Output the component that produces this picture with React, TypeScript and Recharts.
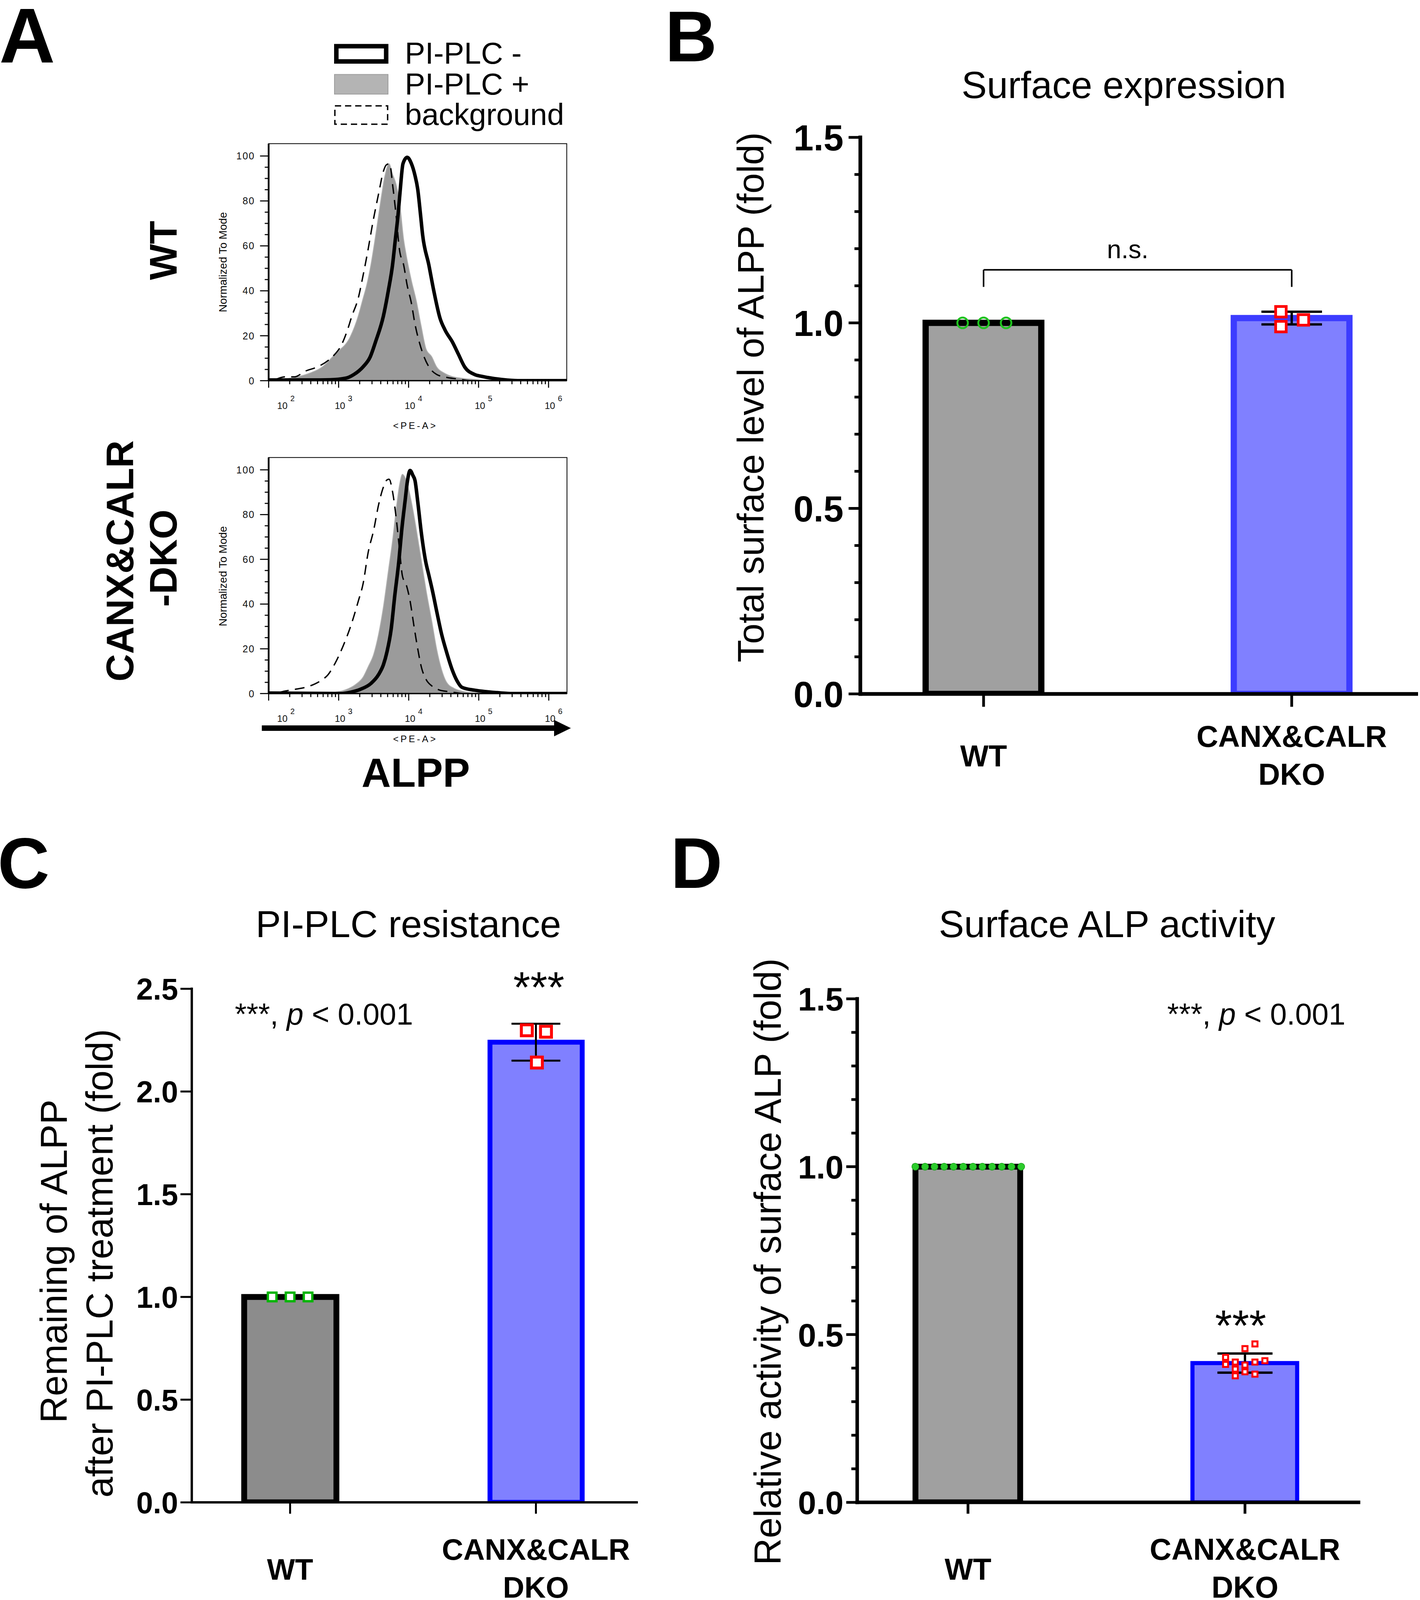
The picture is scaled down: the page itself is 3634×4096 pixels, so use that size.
import React from "react";
import {
  ComposedChart,
  Bar,
  Cell,
  Scatter,
  ErrorBar,
  XAxis,
  YAxis,
  ReferenceLine,
  ReferenceArea,
  Area,
  Line,
} from "recharts";

const FONT = "'Liberation Sans', Arial, Helvetica, sans-serif";

type Pair = [number, number];

// ---------- panel A: flow histograms, x = log10(PE-A), y = % of mode ----------
const decades = [2, 3, 4, 5, 6];
const minorMultipliers = [2, 3, 4, 5, 6, 7, 8, 9];
const modeTicks = [0, 20, 40, 60, 80, 100];

const wtMinus: Pair[] = [
  [2.0, 0.3], [2.6, 0.3], [2.88, 0.4], [3.1, 1.1], [3.22, 2.8], [3.35, 6.2], [3.45, 10.5],
  [3.53, 17.5], [3.64, 28.8], [3.71, 40], [3.77, 51.4], [3.81, 62.7], [3.85, 74], [3.88, 84.7],
  [3.92, 96.6], [3.98, 99.4], [4.04, 96.6], [4.09, 91.5], [4.13, 85.3], [4.17, 74], [4.2, 65],
  [4.29, 51.4], [4.36, 40], [4.45, 27.7], [4.52, 22.6], [4.63, 17], [4.71, 11.9], [4.8, 6.2],
  [4.94, 2.8], [5.05, 1.9], [5.19, 1.1], [5.41, 0.3], [5.6, 0], [6.26, 0],
];
const wtPlus: Pair[] = [
  [2.0, 0], [2.23, 0.8], [2.41, 1.7], [2.59, 3.4], [2.77, 6.2], [2.95, 11.9], [3.17, 19.8],
  [3.28, 28.8], [3.35, 36.7], [3.4, 42.4], [3.46, 51.4], [3.53, 65], [3.6, 79.7], [3.66, 91],
  [3.72, 96.6], [3.77, 92], [3.82, 87.6], [3.87, 79.7], [3.93, 62.7], [3.96, 57], [4.04, 44.6],
  [4.11, 35.6], [4.18, 24.3], [4.25, 14.1], [4.33, 10.7], [4.4, 6.2], [4.51, 3.4], [4.62, 1.9],
  [4.76, 1.1], [4.94, 0.6], [5.12, 0], [6.26, 0],
];
const wtBackground: Pair[] = [
  [2.1, 0.5], [2.23, 1.7], [2.37, 1.7], [2.52, 4.2], [2.7, 6.2], [2.85, 9], [2.95, 11.9],
  [3.03, 15.3], [3.12, 22], [3.19, 28.8], [3.28, 36.7], [3.35, 46.9], [3.42, 58.2], [3.49, 70.6],
  [3.57, 83], [3.64, 93.2], [3.68, 96], [3.73, 96.6], [3.77, 87.6], [3.82, 74], [3.87, 58.2],
  [3.93, 51.4], [3.98, 42.4], [4.04, 34.5], [4.09, 25.4], [4.16, 16.4], [4.22, 10.7], [4.29, 6.2],
  [4.4, 2.8], [4.54, 1.5], [4.69, 0.8], [4.87, 0],
];

const dkoMinus: Pair[] = [
  [2.0, 0.2], [3.03, 0], [3.17, 0.6], [3.31, 1.9], [3.46, 4.5], [3.57, 8.5], [3.64, 13],
  [3.69, 18.7], [3.75, 28.9], [3.8, 43.5], [3.86, 59.4], [3.9, 73], [3.95, 86.6], [3.98, 94.6],
  [4.02, 99.7], [4.06, 97.5], [4.09, 95.2], [4.13, 85.5], [4.18, 71.9], [4.24, 59.4], [4.29, 52.6],
  [4.34, 45.8], [4.4, 36.7], [4.47, 26.5], [4.54, 18.6], [4.62, 10.7], [4.69, 5.7], [4.76, 2.8],
  [4.94, 1.5], [5.12, 0.8], [5.3, 0.3], [5.48, 0], [6.26, 0],
];
const dkoPlus: Pair[] = [
  [2.77, 0], [2.95, 0.6], [3.1, 1.7], [3.24, 4], [3.35, 7.4], [3.42, 11.9], [3.5, 17.6],
  [3.57, 26.6], [3.64, 39.1], [3.71, 55], [3.77, 68.6], [3.82, 82.2], [3.87, 93.5], [3.91, 98],
  [3.95, 96.4], [4.0, 91.3], [4.06, 82.2], [4.11, 73.1], [4.18, 59.5], [4.25, 45.9], [4.33, 32.3],
  [4.4, 19.8], [4.47, 10.7], [4.54, 5.1], [4.65, 2.3], [4.76, 1.1], [4.94, 0.3], [5.12, 0],
];
const dkoBackground: Pair[] = [
  [2.15, 0.5], [2.23, 1.1], [2.34, 1.7], [2.59, 3.4], [2.74, 5.7], [2.85, 8.5], [2.95, 13.6],
  [3.06, 21], [3.17, 30], [3.28, 41.3], [3.35, 49.3], [3.42, 62.9], [3.5, 73.1], [3.57, 84.4],
  [3.64, 92.4], [3.69, 95.5], [3.72, 95.8], [3.77, 90.1], [3.82, 78.8], [3.87, 64], [3.91, 52.6],
  [3.97, 48.1], [4.02, 41.3], [4.07, 31.2], [4.13, 19.8], [4.18, 11.9], [4.25, 6.2], [4.33, 3.4],
  [4.43, 1.7], [4.58, 0.8], [4.76, 0],
];

// ---------- panels B-D: bar charts ----------
const groupX = [0, 1];
const groupLabels = [["WT"], ["CANX&CALR", "DKO"]];

const surfaceMean = [1.0, 1.013];
const surfaceSd = [0, 0.017];
const surfaceWt: Pair[] = [[-0.068, 1.0], [0, 1.0], [0.073, 1.0]];
const surfaceDko: Pair[] = [[-0.035, 1.03], [-0.035, 0.99], [0.038, 1.008]];
const nsBracket = [1.097, 1.143];

const resistMean = [1.0, 2.24];
const resistSd = [0, 0.09];
const resistWt: Pair[] = [[-0.073, 1.0], [0, 1.0], [0.073, 1.0]];
const resistDko: Pair[] = [[-0.037, 2.298], [0.041, 2.291], [0.004, 2.141]];

const activityMean = [1.0, 0.415];
const activitySd = [0, 0.0285];
const activityWt: Pair[] = [
  [-0.19, 1.0], [-0.155, 1.0], [-0.121, 1.0], [-0.086, 1.0], [-0.052, 1.0], [-0.017, 1.0],
  [0.018, 1.0], [0.052, 1.0], [0.087, 1.0], [0.122, 1.0], [0.157, 1.0], [0.192, 1.0],
];
const activityDko: Pair[] = [
  [-0.07, 0.432], [-0.07, 0.411], [-0.035, 0.418], [-0.035, 0.397], [-0.035, 0.377], [0, 0.458],
  [0, 0.409], [0, 0.389], [0.036, 0.472], [0.036, 0.418], [0.036, 0.382], [0.072, 0.422],
];

const fineTicks = Array.from({ length: 16 }, (_, i) => +(i * 0.1).toFixed(1));
const coarseTicks = [0, 0.5, 1, 1.5, 2, 2.5];

// ---------- helpers ----------
const toXY = (a: Pair[]) => a.map(([x, y]) => ({ x, y }));
const around = (a: Pair[], gx: number) => a.map(([dx, y]) => ({ x: gx + dx, y }));

const logTicks = [
  ...decades,
  ...decades.slice(0, 4).flatMap((d) => minorMultipliers.map((m) => d + Math.log10(m))),
].sort((a, b) => a - b);
const modeTicksAll = Array.from({ length: 21 }, (_, i) => i * 5);
const isInt = (v: number) => Math.abs(v - Math.round(v)) < 1e-6;

function HistXTick(props: any) {
  const { x, y, payload } = props;
  const v = payload.value;
  const major = isInt(v);
  const dx = Math.round(v) === 2 ? 35 : 3.5;
  return (
    <g>
      <line x1={x} x2={x} y1={y} y2={y + (major ? 18 : 9)} stroke="#000" strokeWidth={2.7} />
      {major && (
        <>
          <text x={x + dx} y={y + 72} textAnchor="middle" fontSize={24} fill="#111" fontFamily={FONT}>
            10
          </text>
          <text x={x + dx + 26} y={y + 52} textAnchor="middle" fontSize={20} fill="#111" fontFamily={FONT}>
            {Math.round(v)}
          </text>
        </>
      )}
    </g>
  );
}

function HistYTick(props: any) {
  const { x, y, payload } = props;
  const v = payload.value;
  const major = modeTicks.includes(v);
  return (
    <g>
      <line x1={x - (major ? 22 : 10)} x2={x} y1={y} y2={y} stroke="#000" strokeWidth={2.7} />
      {major && (
        <text
          x={x - 35}
          y={y}
          dy="0.36em"
          textAnchor="end"
          fontSize={25}
          letterSpacing={2}
          fill="#111"
          fontFamily={FONT}
        >
          {v}
        </text>
      )}
    </g>
  );
}

function Histogram(props: any) {
  const { left, top, width, height, marginTop, minus, plus, bg } = props;
  return (
    <div style={{ position: "absolute", left, top }}>
      <ComposedChart width={width} height={height} margin={{ top: marginTop, right: 20, left: 0, bottom: 0 }}>
        <XAxis
          type="number"
          dataKey="x"
          domain={[2, 6.26]}
          allowDataOverflow
          ticks={logTicks}
          interval={0}
          height={100}
          tickSize={0}
          tickMargin={0}
          tickLine={false}
          axisLine={{ stroke: "#000", strokeWidth: 3.5 }}
          tick={<HistXTick />}
        />
        <YAxis
          type="number"
          domain={[0, 105.5]}
          allowDataOverflow
          ticks={modeTicksAll.filter((t) => t <= 100)}
          interval={0}
          width={127.5}
          tickSize={0}
          tickMargin={0}
          tickLine={false}
          axisLine={{ stroke: "#000", strokeWidth: 4.5 }}
          tick={<HistYTick />}
        />
        <Area
          data={toXY(plus)}
          dataKey="y"
          type="monotone"
          fill="#9b9b9b"
          fillOpacity={1}
          stroke="#b2b2b2"
          strokeWidth={2}
          isAnimationActive={false}
        />
        <Line
          data={toXY(bg)}
          dataKey="y"
          type="monotone"
          stroke="#000"
          strokeWidth={3.5}
          strokeDasharray="25 16"
          dot={false}
          isAnimationActive={false}
        />
        <Line
          data={toXY(minus)}
          dataKey="y"
          type="monotone"
          stroke="#000"
          strokeWidth={9}
          dot={false}
          isAnimationActive={false}
        />
        <ReferenceArea x1={2} x2={6.26} y1={0} y2={105.5} fill="none" stroke="#000" strokeWidth={2} ifOverflow="visible" />
      </ComposedChart>
    </div>
  );
}

function BarYTick(props: any) {
  const { x, y, payload, majorLen, minorLen, lw, labelOff, fs } = props;
  const v = payload.value;
  const major = isInt(v * 2);
  return (
    <g>
      <line x1={x - (major ? majorLen : minorLen)} x2={x} y1={y} y2={y} stroke="#000" strokeWidth={lw} />
      {major && (
        <text
          x={x - labelOff}
          y={y}
          dy="0.36em"
          textAnchor="end"
          fontSize={fs}
          fontWeight="bold"
          fill="#000"
          fontFamily={FONT}
        >
          {v.toFixed(1)}
        </text>
      )}
    </g>
  );
}

function GroupTick(props: any) {
  const { x, y, payload, tickLen, lw, fs, one, two1, two2 } = props;
  const lines = groupLabels[Math.round(payload.value)];
  const common = { textAnchor: "middle" as const, fontSize: fs, fontWeight: "bold", fill: "#000", fontFamily: FONT };
  return (
    <g>
      <line x1={x} x2={x} y1={y} y2={y + tickLen} stroke="#000" strokeWidth={lw} />
      {lines.length === 1 ? (
        <text x={x} y={y + one} {...common}>
          {lines[0]}
        </text>
      ) : (
        <>
          <text x={x} y={y + two1} {...common}>
            {lines[0]}
          </text>
          <text x={x} y={y + two2} {...common}>
            {lines[1]}
          </text>
        </>
      )}
    </g>
  );
}

const X_DOMAIN = [-0.4, 1.41];

function BarPanel(props: any) {
  const c = props.cfg;
  const rows = c.means.map((m: number, i: number) => ({ x: groupX[i], v: m }));
  const errRows = c.means
    .map((m: number, i: number) => ({ x: groupX[i], y: m, sd: c.sds[i] }))
    .filter((r: any) => r.sd > 0);
  return (
    <div style={{ position: "absolute", left: c.left, top: c.top }}>
      <ComposedChart
        width={c.width}
        height={c.height}
        data={rows}
        margin={{ top: c.marginTop, right: c.marginRight, left: 0, bottom: 0 }}
      >
        <XAxis
          xAxisId="bars"
          type="number"
          dataKey="x"
          domain={X_DOMAIN}
          allowDataOverflow
          ticks={groupX}
          interval={0}
          height={c.xHeight}
          tickSize={0}
          tickMargin={0}
          tickLine={false}
          axisLine={{ stroke: "#000", strokeWidth: c.axisW, strokeLinecap: "square" }}
          tick={<GroupTick tickLen={c.xTickLen} lw={c.tickW} fs={c.xFont} one={c.one} two1={c.two1} two2={c.two2} />}
        />
        <XAxis xAxisId="pts" type="number" dataKey="x" domain={X_DOMAIN} allowDataOverflow hide />
        <YAxis
          type="number"
          domain={[0, c.yMax]}
          allowDataOverflow
          ticks={c.yTicks}
          interval={0}
          width={c.yWidth}
          tickSize={0}
          tickMargin={0}
          tickLine={false}
          axisLine={{ stroke: "#000", strokeWidth: c.axisW, strokeLinecap: "square" }}
          tick={<BarYTick majorLen={c.majorLen} minorLen={c.minorLen} lw={c.tickW} labelOff={c.labelOff} fs={c.yFont} />}
        />
        <Bar xAxisId="bars" dataKey="v" barSize={c.barSize} isAnimationActive={false}>
          {rows.map((_: any, i: number) => (
            <Cell key={i} fill={c.fills[i]} stroke={c.strokes[i]} strokeWidth={c.strokeWs[i]} />
          ))}
        </Bar>
        <Scatter xAxisId="pts" data={around(c.wtPts, groupX[0])} dataKey="y" shape={c.wtShape} isAnimationActive={false} />
        <Scatter xAxisId="pts" data={around(c.dkoPts, groupX[1])} dataKey="y" shape={c.dkoShape} isAnimationActive={false} />
        <Scatter xAxisId="pts" data={errRows} dataKey="y" shape={() => <g />} isAnimationActive={false}>
          <ErrorBar dataKey="sd" direction="y" width={c.capHalf} stroke="#000" strokeWidth={c.errW} />
        </Scatter>
        {c.bracket && (
          <ReferenceLine
            xAxisId="pts"
            segment={[{ x: groupX[0], y: c.bracket[0] }, { x: groupX[0], y: c.bracket[1] }]}
            stroke="#000"
            strokeWidth={4}
            ifOverflow="visible"
          />
        )}
        {c.bracket && (
          <ReferenceLine
            xAxisId="pts"
            segment={[{ x: groupX[0], y: c.bracket[1] }, { x: groupX[1], y: c.bracket[1] }]}
            stroke="#000"
            strokeWidth={4}
            ifOverflow="visible"
          />
        )}
        {c.bracket && (
          <ReferenceLine
            xAxisId="pts"
            segment={[{ x: groupX[1], y: c.bracket[1] }, { x: groupX[1], y: c.bracket[0] }]}
            stroke="#000"
            strokeWidth={4}
            ifOverflow="visible"
          />
        )}
      </ComposedChart>
    </div>
  );
}

const ring = (r: number, sw: number, color: string) => (p: any) =>
  <circle cx={p.cx} cy={p.cy} r={r} fill="none" stroke={color} strokeWidth={sw} />;
const square = (s: number, sw: number, color: string) => (p: any) =>
  <rect x={p.cx - s / 2} y={p.cy - s / 2} width={s} height={s} fill="#fff" stroke={color} strokeWidth={sw} />;
const dot = (r: number) => (p: any) =>
  <circle cx={p.cx} cy={p.cy} r={r} fill="#2ccc2c" stroke="#1a9f1a" strokeWidth={1.5} />;

const panelB = {
  left: 1740, top: 300, width: 1889, height: 1736.4, marginTop: 51.7, marginRight: 0,
  yWidth: 461.7, xHeight: 260, yMax: 1.5, yTicks: fineTicks,
  axisW: 9.5, tickW: 7, majorLen: 30, minorLen: 15, labelOff: 43, yFont: 92,
  xTickLen: 33, xFont: 77, one: 186, two1: 136, two2: 233,
  means: surfaceMean, sds: surfaceSd, wtPts: surfaceWt, dkoPts: surfaceDko,
  barSize: 296, fills: ["#a0a0a0", "#8080ff"], strokes: ["#000", "#3c3cff"], strokeWs: [16, 16],
  wtShape: ring(13.5, 5, "#1ec21e"), dkoShape: square(27, 7, "#ff0000"),
  capHalf: 77.5, errW: 6, bracket: nsBracket,
};
const panelC = {
  left: 300, top: 2480, width: 1339.4, height: 1616.1, marginTop: 51.3, marginRight: 10,
  yWidth: 190.8, xHeight: 250, yMax: 2.5, yTicks: coarseTicks,
  axisW: 6, tickW: 5, majorLen: 29, minorLen: 29, labelOff: 35, yFont: 77,
  xTickLen: 29, xFont: 76, one: 198, two1: 147, two2: 244,
  means: resistMean, sds: resistSd, wtPts: resistWt, dkoPts: resistDko,
  barSize: 236, fills: ["#8c8c8c", "#8080ff"], strokes: ["#000", "#0000ff"], strokeWs: [15, 12.5],
  wtShape: square(22, 6, "#00b400"), dkoShape: square(28, 7.5, "#ff0000"),
  capHalf: 62.5, errW: 5, bracket: null,
};
const panelD = {
  left: 2000, top: 2500, width: 1486.7, height: 1596.1, marginTop: 57, marginRight: 10,
  yWidth: 193.7, xHeight: 250, yMax: 1.5, yTicks: fineTicks,
  axisW: 9, tickW: 7, majorLen: 28, minorLen: 15, labelOff: 35, yFont: 84,
  xTickLen: 29, xFont: 77, one: 198, two1: 147, two2: 244,
  means: activityMean, sds: activitySd, wtPts: activityWt, dkoPts: activityDko,
  barSize: 268, fills: ["#a0a0a0", "#8080ff"], strokes: ["#000", "#0000ff"], strokeWs: [15, 10.5],
  wtShape: dot(9), dkoShape: square(13, 5, "#ff0000"),
  capHalf: 70.5, errW: 6, bracket: null,
};

function Rot(props: any) {
  const { x, y, size, bold, children } = props;
  return (
    <text
      x={x}
      y={y}
      transform={`rotate(-90 ${x} ${y})`}
      textAnchor="middle"
      fontSize={size}
      fontWeight={bold ? "bold" : "normal"}
      fill="#000"
    >
      {children}
    </text>
  );
}

function Overlay() {
  return (
    <svg
      width={3634}
      height={4096}
      style={{ position: "absolute", left: 0, top: 0, pointerEvents: "none" }}
      fontFamily={FONT}
    >
      {/* panel letters */}
      <text x={-2} y={160} fontSize={198} fontWeight="bold">A</text>
      <text x={1702} y={157} fontSize={184} fontWeight="bold">B</text>
      <text x={-6} y={2273} fontSize={184} fontWeight="bold">C</text>
      <text x={1716} y={2273} fontSize={184} fontWeight="bold">D</text>

      {/* legend of A */}
      <rect x={860.75} y={118.25} width={127.5} height={39} fill="none" stroke="#000" strokeWidth={11.5} />
      <rect x={856} y={190.6} width={137} height={50.3} fill="#b4b4b4" stroke="#9c9c9c" strokeWidth={2} />
      <rect x={857} y={271} width={135} height={47} fill="none" stroke="#000" strokeWidth={3.5} strokeDasharray="16 10" />
      <text x={1036} y={163} fontSize={78}>PI-PLC -</text>
      <text x={1036} y={242} fontSize={78}>PI-PLC +</text>
      <text x={1036} y={320} fontSize={78}>background</text>

      {/* row labels of A */}
      <Rot x={452} y={641} size={97.5} bold>WT</Rot>
      <Rot x={341} y={1436} size={97.5} bold>CANX&amp;CALR</Rot>
      <Rot x={452} y={1429} size={97.5} bold>-DKO</Rot>

      {/* histogram axis titles */}
      <Rot x={580} y={671} size={28}>Normalized To Mode</Rot>
      <Rot x={580} y={1475} size={28}>Normalized To Mode</Rot>
      <text x={1063} y={1098} fontSize={24} letterSpacing={5} textAnchor="middle">{"<PE-A>"}</text>
      <text x={1063} y={1900} fontSize={24} letterSpacing={5} textAnchor="middle">{"<PE-A>"}</text>
      <line x1={670} y1={1864} x2={1420} y2={1864} stroke="#000" strokeWidth={14} />
      <polygon points="1418,1843 1461,1864 1418,1885" fill="#000" />
      <text x={1064} y={2014} fontSize={104} fontWeight="bold" textAnchor="middle">ALPP</text>

      {/* titles */}
      <text x={2876} y={251} fontSize={97} textAnchor="middle">Surface expression</text>
      <text x={1045} y={2399} fontSize={97} textAnchor="middle">PI-PLC resistance</text>
      <text x={2833} y={2399} fontSize={97} textAnchor="middle">Surface ALP activity</text>

      {/* y axis titles */}
      <Rot x={1954} y={1017} size={94}>Total surface level of ALPP (fold)</Rot>
      <Rot x={171} y={3229} size={95.5}>Remaining of ALPP</Rot>
      <Rot x={288} y={3234} size={95.5}>after PI-PLC treatment (fold)</Rot>
      <Rot x={1998} y={3230} size={95.5}>Relative activity of surface ALP (fold)</Rot>

      {/* statistics */}
      <text x={2886} y={661} fontSize={66} textAnchor="middle">n.s.</text>
      <text x={601} y={2623} fontSize={77}>
        ***, <tspan fontStyle="italic">p</tspan> &lt; 0.001
      </text>
      <text x={2987} y={2623} fontSize={77}>
        ***, <tspan fontStyle="italic">p</tspan> &lt; 0.001
      </text>
      <text x={1379} y={2566} fontSize={112} textAnchor="middle">***</text>
      <text x={3175} y={3432} fontSize={112} textAnchor="middle">***</text>
    </svg>
  );
}

export default function App() {
  return (
    <div
      style={{
        position: "absolute",
        left: 0,
        top: 0,
        width: 3634,
        height: 4096,
        background: "#fff",
        overflow: "hidden",
        fontFamily: FONT,
      }}
    >
      <Histogram left={560} top={340} width={910.4} height={734.6} marginTop={27.7} minus={wtMinus} plus={wtPlus} bg={wtBackground} />
      <Histogram left={560} top={1140} width={911} height={735.5} marginTop={31.3} minus={dkoMinus} plus={dkoPlus} bg={dkoBackground} />
      <BarPanel cfg={panelB} />
      <BarPanel cfg={panelC} />
      <BarPanel cfg={panelD} />
      <Overlay />
    </div>
  );
}
